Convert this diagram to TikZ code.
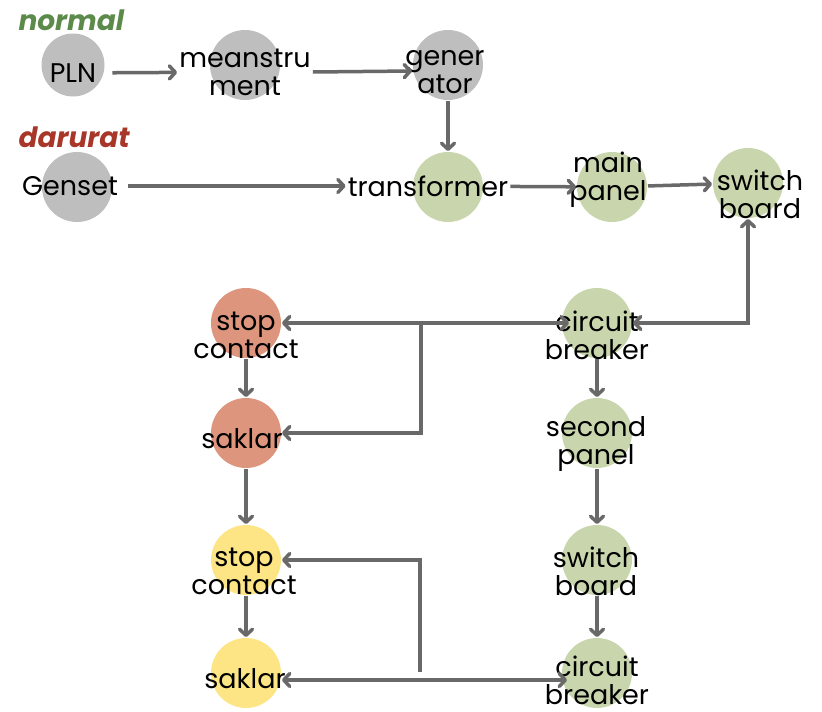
\documentclass[tikz,border=0pt]{standalone}
\usepackage{fontspec}
\setmainfont{Poppins}
\usepackage{tikz}
\usetikzlibrary{arrows.meta}
\definecolor{dotGray}{HTML}{BEBEBE}
\definecolor{dotGreen}{HTML}{C9D6AD}
\definecolor{dotRed}{HTML}{DE957D}
\definecolor{dotYellow}{HTML}{FDE585}
\definecolor{wireGray}{HTML}{696969}
\definecolor{modeGreen}{HTML}{5C8A4B}
\definecolor{modeRed}{HTML}{A8372A}
\tikzset{
  barb/.tip={Straight Barb[length=6pt,width=13pt,round]},
  dot/.style={circle, minimum size=70pt, inner sep=0pt, outer sep=1pt},
  txt/.style={align=center, inner sep=2pt, font=\fontsize{27}{28}\selectfont},
  mode/.style={font=\fontsize{28}{30}\selectfont\bfseries\itshape},
  wire/.style={-barb, line width=3.5pt, wireGray},
}

\begin{document}
\begin{tikzpicture}[x=1pt,y=-1pt]
  \useasboundingbox (0,0) rectangle (822,712);
  % circles
  \node[dot, fill=dotGray, minimum size=63pt] (plnC) at (73,65) {};
  \node[dot, fill=dotGray] (measC) at (245,65) {};
  \node[dot, fill=dotGray] (genC) at (448,65) {};
  \node[dot, fill=dotGray] (gensetC) at (77,187) {};
  \node[dot, fill=dotGreen] (trafoC) at (448,187) {};
  \node[dot, fill=dotGreen] (mainC) at (612,187) {};
  \node[dot, fill=dotGreen] (sbaC) at (748,183) {};
  \node[dot, fill=dotGreen] (cbaC) at (597,323) {};
  \node[dot, fill=dotGreen] (secC) at (597,433) {};
  \node[dot, fill=dotGreen] (sbbC) at (597,560) {};
  \node[dot, fill=dotGreen] (cbbC) at (597,673) {};
  \node[dot, fill=dotRed] (scaC) at (246,323) {};
  \node[dot, fill=dotRed] (skaC) at (246,433) {};
  \node[dot, fill=dotYellow] (scbC) at (246,560) {};
  \node[dot, fill=dotYellow] (skbC) at (246,673) {};
  % texts
  \node[mode, modeGreen, anchor=west] (normal) at (15,20) {normal};
  \node[mode, modeRed, anchor=west] (darurat) at (15,137) {darurat};
  \node[txt] (pln) at (73,73) {PLN};
  \node[txt] (meas) at (245,72) {meanstru\\ment};
  \node[txt] (gen) at (445,72) {gener\\ator};
  \node[txt] (genset) at (70,186) {Genset};
  \node[txt] (trafo) at (428,186) {transformer};
  \node[txt] (main) at (608,180) {main\\panel};
  \node[txt] (sba) at (760,194) {switch\\board};
  \node[txt] (cba) at (597,335) {circuit\\breaker};
  \node[txt] (sec) at (596,444) {second\\panel};
  \node[txt] (sbb) at (596,571) {switch\\board};
  \node[txt] (cbb) at (597,680) {circuit\\breaker};
  \node[txt] (sca) at (246,335) {stop\\contact};
  \node[txt] (ska) at (242,439) {saklar};
  \node[txt] (scb) at (244,571) {stop\\contact};
  \node[txt] (skb) at (245,679) {saklar};
  % normal and darurat supply
  \draw[wire, shorten <=14pt] (pln) -- (meas);
  \draw[wire] (meas.east |- 0,72) -- (genC.west |- 0,71);
  \draw[wire] (genC) -- (trafoC);
  \draw[wire, shorten <=8pt] (genset) -- (trafo);
  \draw[wire] (trafo) -- (mainC);
  \draw[wire] (mainC) -- (sbaC);
  % right column
  \draw[wire, barb-barb] (sbaC) |- (cbaC);
  \draw[wire] (cbaC) -- (secC);
  \draw[wire] (secC) -- (sbbC);
  \draw[wire] (sbbC) -- (cbbC);
  % left column
  \draw[wire] (scaC) -- (skaC);
  \draw[wire] (skaC) -- (scbC);
  \draw[wire] (scbC) -- (skbC);
  % upper branch
  \coordinate (upJoint) at (421,323);
  \draw[wire, shorten >=-8pt] (upJoint) -- (cbaC);
  \draw[wire] (upJoint) -- (scaC);
  \draw[wire] (upJoint) |- (skaC);
  % lower branch
  \coordinate (lowJoint) at (420,680);
  \coordinate (lowTop) at (420,672);
  \draw[wire, shorten >=-6pt] (lowJoint) -- (lowJoint -| cbbC.west);
  \draw[wire] (lowJoint) -- (lowJoint -| skbC.east);
  \draw[wire] (lowTop) |- (scbC);
\end{tikzpicture}
\end{document}
